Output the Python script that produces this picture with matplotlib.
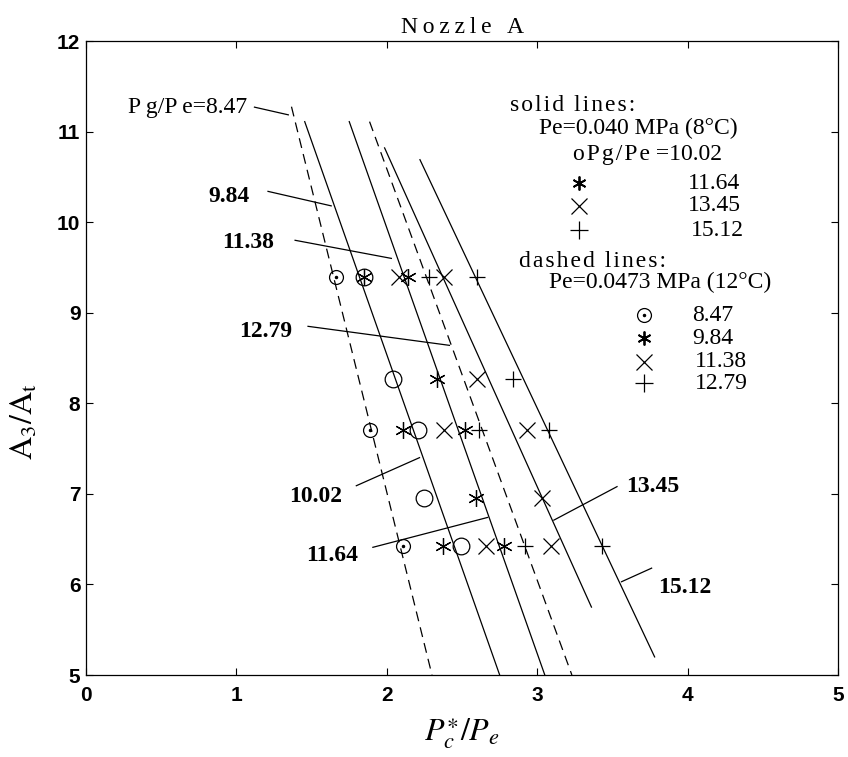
import matplotlib
matplotlib.use('Agg')
import matplotlib.pyplot as plt

plt.rcParams['mathtext.fontset'] = 'stix'
SERIF = ['Liberation Serif', 'DejaVu Serif']
SANS = ['Liberation Sans', 'DejaVu Sans']

# measured points (x = Pc*/Pe, y = A3/At)
# dashed-line group, Pe = 0.0473 MPa
p_847 = [1.66, 1.885, 2.11]
a_847 = [9.40, 7.71, 6.42]
p_984 = [1.85, 2.11, 2.37]
a_984 = [9.40, 7.71, 6.42]
p_1138 = [2.08, 2.38, 2.66]
a_1138 = [9.40, 7.71, 6.42]
p_1279 = [2.28, 2.61, 2.92]
a_1279 = [9.40, 7.71, 6.42]
# solid-line group, Pe = 0.040 MPa
p_1002 = [1.85, 2.04, 2.21, 2.245, 2.49]
a_1002 = [9.40, 8.27, 7.71, 6.96, 6.42]
p_1164 = [2.14, 2.33, 2.52, 2.59, 2.78]
a_1164 = [9.40, 8.27, 7.71, 6.96, 6.42]
p_1345 = [2.38, 2.60, 2.93, 3.03, 3.09]
a_1345 = [9.40, 8.27, 7.71, 6.96, 6.42]
p_1512 = [2.60, 2.84, 3.08, 3.43]
a_1512 = [9.40, 8.27, 7.71, 6.42]

# fitted lines (end points)
fit_dashed = {
    '8.47': ([1.366, 2.30], [11.275, 5.0]),
    '12.79': ([1.885, 3.23], [11.11, 5.0]),
}
fit_solid = {
    '10.02': ([1.454, 2.75], [11.11, 5.0]),
    '11.64': ([1.75, 3.05], [11.11, 5.0]),
    '13.45': ([1.985, 3.36], [10.82, 5.75]),
    '15.12': ([2.22, 3.78], [10.69, 5.2]),
}

# curve labels: text, text anchor, leader start, leader end, alignment
labels = [
    ('9.84', (1.09, 10.28), (1.21, 10.34), (1.63, 10.18), 'right'),
    ('11.38', (1.25, 9.78), (1.39, 9.80), (2.03, 9.60), 'right'),
    ('12.79', (1.37, 8.79), (1.476, 8.85), (2.416, 8.64), 'right'),
    ('10.02', (1.70, 6.97), (1.797, 7.09), (2.217, 7.40), 'right'),
    ('11.64', (1.81, 6.325), (1.907, 6.41), (2.67, 6.74), 'right'),
    ('13.45', (3.59, 7.08), (3.53, 7.08), (3.11, 6.71), 'left'),
    ('15.12', (3.80, 5.97), (3.56, 6.03), (3.76, 6.18), 'left'),
]


def spaced(s, sep='\u200a'):
    return sep.join(s)


def dotted_circle(ax, x, y):
    ax.plot(x, y, 'o', ms=10, mfc='none', mec='k', mew=0.9, ls='none')
    ax.plot(x, y, '.', ms=3, color='k', ls='none')


fig = plt.figure(figsize=(8.48, 7.57), dpi=100)
ax = fig.add_axes([0.1014, 0.1083, 0.887, 0.8375])

for key, (px, py) in fit_solid.items():
    ax.plot(px, py, '-', color='k', lw=0.9)
for key, (px, py) in fit_dashed.items():
    ax.plot(px, py, color='k', lw=0.9, ls=(0, (8, 5)))

star = (6, 2, 0)
dotted_circle(ax, p_847, a_847)
ax.plot(p_984, a_984, marker=star, ms=12, mec='k', mew=0.9, ls='none')
ax.plot(p_1138, a_1138, 'x', ms=11, mec='k', mew=0.9, ls='none')
ax.plot(p_1279, a_1279, '+', ms=12, mec='k', mew=0.9, ls='none')
ax.plot(p_1002, a_1002, 'o', ms=12, mfc='none', mec='k', mew=0.9, ls='none')
ax.plot(p_1164, a_1164, marker=star, ms=12, mec='k', mew=0.9, ls='none')
ax.plot(p_1345, a_1345, 'x', ms=11, mec='k', mew=0.9, ls='none')
ax.plot(p_1512, a_1512, '+', ms=12, mec='k', mew=0.9, ls='none')

# first curve label with leader
ax.plot([1.12, 1.345], [11.27, 11.185], color='k', lw=0.9)
ax.text(1.07, 11.27, 'P\u2009g/P\u2009e=8.47', ha='right', va='center',
        fontsize=17, family=SERIF)
for txt, (tx, ty), (x0, y0), (x1, y1), ha in labels:
    ax.plot([x0, x1], [y0, y1], color='k', lw=0.9)
    ax.text(tx, ty, txt, ha=ha, va='center', fontsize=17, weight='bold', family=SERIF)

# legend block written as text
fs = 17
ax.text(2.82, 11.29, spaced('solid lines:'), fontsize=fs, va='center', family=SERIF)
ax.text(3.01, 11.04, 'Pe=0.040 MPa (8\u00b0C)', fontsize=fs, va='center', family=SERIF)
ax.text(3.24, 10.75, spaced('oPg/Pe') + ' =10.02', fontsize=fs, va='center', family=SERIF)
ax.plot([3.28], [10.43], marker=star, ms=10, mec='k', mew=1.3, ls='none')
ax.plot([3.28], [10.18], 'x', ms=11, mec='k', mew=0.9, ls='none')
ax.plot([3.28], [9.91], '+', ms=13, mec='k', mew=0.9, ls='none')
ax.text(4.00, 10.43, '11.64', fontsize=fs, va='center', family=SERIF)
ax.text(4.00, 10.18, '13.45', fontsize=fs, va='center', family=SERIF)
ax.text(4.02, 9.91, '15.12', fontsize=fs, va='center', family=SERIF)

ax.text(2.88, 9.57, spaced('dashed lines:'), fontsize=fs, va='center', family=SERIF)
ax.text(3.08, 9.33, 'Pe=0.0473 MPa (12\u00b0C)', fontsize=fs, va='center', family=SERIF)
dotted_circle(ax, [3.71], [8.97])
ax.plot([3.71], [8.72], marker=star, ms=10, mec='k', mew=1.3, ls='none')
ax.plot([3.71], [8.46], 'x', ms=11, mec='k', mew=0.9, ls='none')
ax.plot([3.71], [8.22], '+', ms=13, mec='k', mew=0.9, ls='none')
ax.text(4.03, 8.97, '8.47', fontsize=fs, va='center', family=SERIF)
ax.text(4.03, 8.72, '9.84', fontsize=fs, va='center', family=SERIF)
ax.text(4.05, 8.46, '11.38', fontsize=fs, va='center', family=SERIF)
ax.text(4.05, 8.22, '12.79', fontsize=fs, va='center', family=SERIF)

ax.set_xlim(0, 5)
ax.set_ylim(5, 12)
ax.set_xticks([0, 1, 2, 3, 4, 5])
ax.set_yticks([5, 6, 7, 8, 9, 10, 11, 12])
ax.tick_params(direction='in', top=True, right=True, length=5, width=0.8,
               labelsize=15, pad=8)
ax.tick_params(axis='y', pad=4)
for lab in ax.get_xticklabels() + ax.get_yticklabels():
    lab.set_family(SANS)
    lab.set_weight('bold')
for s in ax.spines.values():
    s.set_linewidth(0.9)

ax.set_title(spaced('Nozzle A', '\u2009'), fontsize=17, family=SERIF, pad=6)
ax.set_xlabel(r'$P_c^{\ast}/P_e$', fontsize=23, labelpad=8)
ax.set_ylabel(r'$\mathrm{A_3/A_t}$', fontsize=23)
ax.yaxis.set_label_coords(-0.062, 0.40)

fig.savefig('out.png', dpi=100, facecolor='white')
